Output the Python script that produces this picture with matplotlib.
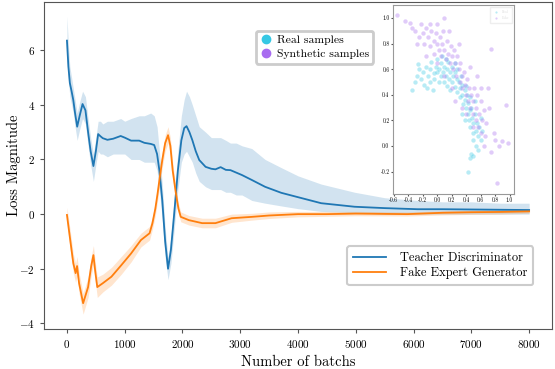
import numpy as np
import matplotlib
matplotlib.use("Agg")
import matplotlib.pyplot as plt
from matplotlib.lines import Line2D

plt.rcParams['font.family'] = 'serif'
plt.rcParams['font.serif'] = ['cmr10', 'DejaVu Serif']
plt.rcParams['mathtext.fontset'] = 'cm'
plt.rcParams['axes.unicode_minus'] = False
plt.rcParams['axes.formatter.use_mathtext'] = True

# Teacher Discriminator (smoothed) + raw band
td_x = [0, 25, 50, 80, 110, 140, 177, 220, 270, 320, 366, 410, 458, 500, 540,
        580, 620, 700, 800, 930, 1000, 1110, 1250, 1340, 1450, 1510, 1560, 1600,
        1650, 1700, 1750, 1800, 1860, 1920, 1980, 2030, 2070, 2120, 2170, 2230,
        2290, 2400, 2500, 2570, 2660, 2750, 2830, 2930, 3030, 3200, 3430, 3710,
        4000, 4400, 4980, 5500, 6070, 6500, 7000, 7500, 8000]
td_y = [6.35, 5.4, 4.8, 4.5, 4.17, 3.7, 3.2, 3.6, 4.03, 3.8, 3.0, 2.3, 1.76, 2.3, 2.93,
        2.85, 2.78, 2.72, 2.76, 2.86, 2.8, 2.69, 2.69, 2.61, 2.57, 2.53, 2.2, 1.6,
        0.5, -1.0, -2.0, -1.3, 0.1, 1.6, 2.7, 3.15, 3.22, 3.0, 2.71, 2.3,
        1.98, 1.73, 1.66, 1.64, 1.72, 1.62, 1.61, 1.52, 1.43, 1.25, 1.0, 0.78,
        0.62, 0.4, 0.27, 0.22, 0.18, 0.18, 0.17, 0.16, 0.15]
td_hi = [7.25, 6.2, 5.4, 5.0, 4.6, 4.2, 3.7, 4.1, 4.5, 4.3, 3.5, 2.8, 2.2, 2.8, 3.4,
         3.4, 3.3, 3.4, 3.4, 3.5, 3.4, 3.5, 3.6, 3.6, 3.7, 3.6, 3.2, 2.3,
         1.1, -0.5, -1.6, -0.8, 0.7, 2.3, 3.6, 4.2, 4.5, 4.3, 4.0, 3.6,
         3.2, 3.0, 2.8, 2.8, 2.8, 2.7, 2.6, 2.6, 2.5, 2.4, 2.0, 1.7,
         1.4, 1.1, 0.8, 0.6, 0.5, 0.45, 0.45, 0.4, 0.4]
td_lo = [5.6, 4.9, 4.3, 4.0, 3.7, 3.2, 2.7, 3.1, 3.5, 3.3, 2.5, 1.8, 1.2, 1.8, 2.3,
         2.2, 2.2, 2.1, 2.2, 2.2, 2.2, 2.0, 2.0, 1.9, 1.9, 1.9, 1.6, 0.9,
         -0.2, -1.6, -2.4, -1.8, -0.5, 0.9, 1.9, 2.2, 2.3, 2.1, 1.9, 1.5,
         1.2, 1.0, 0.9, 0.9, 0.9, 0.8, 0.8, 0.7, 0.7, 0.5, 0.4, 0.3,
         0.2, 0.1, 0.05, 0.0, 0.0, 0.0, 0.0, 0.0, 0.0]

# Fake Expert Generator (smoothed) + raw band
fg_x = [0, 50, 110, 150, 175, 210, 280, 366, 420, 458, 490, 525, 620, 770, 940,
        1110, 1280, 1430, 1480, 1530, 1570, 1610, 1650, 1700, 1750, 1790, 1830,
        1885, 1930, 1970, 2110, 2340, 2570, 2850, 3200, 3500, 4000, 4500, 5000,
        5890, 6500, 7000, 7500, 8000]
fg_y = [-0.03, -0.84, -1.8, -2.16, -1.9, -2.53, -3.26, -2.67, -1.9, -1.5, -2.1, -2.67,
        -2.53, -2.29, -1.87, -1.44, -0.95, -0.7, -0.33, 0.2, 0.77, 1.4, 1.98, 2.6,
        2.89, 2.5, 1.6, 0.77, 0.2, -0.1, -0.22, -0.33, -0.33, -0.15, -0.1, -0.05,
        0.0, 0.0, 0.02, 0.0, 0.05, 0.07, 0.08, 0.1]
fg_hi = [0.25, -0.5, -1.45, -1.8, -1.55, -2.15, -2.9, -2.3, -1.55, -1.15, -1.75, -2.3,
         -2.2, -1.95, -1.55, -1.15, -0.7, -0.45, -0.1, 0.45, 1.05, 1.7, 2.3, 2.9,
         3.2, 2.8, 1.9, 1.0, 0.4, 0.08, -0.05, -0.15, -0.15, 0.0, 0.03, 0.08,
         0.1, 0.1, 0.1, 0.08, 0.12, 0.14, 0.15, 0.17]
fg_lo = [-0.3, -1.2, -2.15, -2.5, -2.25, -2.9, -3.66, -3.05, -2.25, -1.85, -2.45, -3.05,
         -2.85, -2.6, -2.2, -1.75, -1.2, -0.95, -0.55, -0.05, 0.5, 1.1, 1.7, 2.3,
         2.6, 2.2, 1.3, 0.55, 0.0, -0.28, -0.4, -0.5, -0.5, -0.3, -0.22, -0.16,
         -0.1, -0.08, -0.06, -0.07, -0.03, -0.01, 0.0, 0.03]

# inset scatter samples
real_pts = np.array([
    (-0.35, 0.44), (-0.3, 0.5), (-0.28, 0.55), (-0.25, 0.6), (-0.22, 0.52), (-0.2, 0.58),
    (-0.18, 0.48), (-0.15, 0.62), (-0.12, 0.55), (-0.1, 0.6), (-0.1, 0.5), (-0.08, 0.66),
    (-0.05, 0.57), (-0.04, 0.52), (-0.02, 0.62), (0.0, 0.58), (0.0, 0.68), (0.02, 0.5),
    (0.03, 0.6), (0.05, 0.55), (0.06, 0.65), (0.08, 0.58), (0.09, 0.5), (0.1, 0.62),
    (0.12, 0.55), (0.13, 0.47), (0.14, 0.6), (0.15, 0.66), (0.17, 0.52), (0.18, 0.58),
    (0.2, 0.5), (0.21, 0.62), (0.22, 0.55), (0.24, 0.46), (0.25, 0.58), (0.27, 0.52),
    (0.28, 0.42), (0.3, 0.5), (0.31, 0.45), (0.32, 0.38), (0.34, 0.48), (0.35, 0.4),
    (0.36, 0.33), (0.38, 0.44), (0.39, 0.36), (0.4, 0.3), (0.41, 0.4), (0.42, 0.25),
    (0.43, 0.34), (0.44, 0.2), (0.45, 0.28), (0.46, 0.15), (0.47, 0.3), (0.48, 0.22),
    (0.49, 0.1), (0.5, 0.18), (0.5, 0.05), (0.52, 0.25), (0.53, 0.12), (0.54, 0.0),
    (0.55, 0.18), (0.56, 0.08), (0.58, 0.15), (0.6, 0.05), (0.57, -0.03), (0.47, -0.06),
    (0.45, -0.09), (0.5, -0.08), (0.43, -0.2), (0.6, 0.22), (-0.27, 0.64), (0.07, 0.7),
    (0.12, 0.68), (0.25, 0.65), (0.33, 0.55), (0.4, 0.47), (0.52, 0.35), (0.62, 0.12),
    (-0.14, 0.45), (0.18, 0.44), (0.38, 0.2), (0.46, 0.38), (0.35, 0.25), (-0.06, 0.44),
    (0.28, 0.6)])
fake_pts = np.array([
    (-0.55, 1.02), (-0.45, 0.98), (-0.38, 0.96), (-0.35, 0.92), (-0.3, 0.9), (-0.25, 0.85),
    (-0.28, 0.8), (-0.22, 0.95), (-0.2, 0.88), (-0.18, 0.8), (-0.15, 0.92), (-0.12, 0.85),
    (-0.1, 0.78), (-0.1, 0.95), (-0.08, 0.9), (-0.05, 0.82), (-0.05, 0.72), (-0.02, 0.88),
    (0.0, 0.8), (0.0, 0.95), (0.02, 0.75), (0.04, 0.85), (0.05, 0.7), (0.07, 0.8),
    (0.08, 0.9), (0.1, 0.75), (0.1, 1.0), (0.12, 0.68), (0.13, 0.82), (0.15, 0.72),
    (0.16, 0.9), (0.18, 0.65), (0.19, 0.78), (0.2, 0.7), (0.22, 0.6), (0.23, 0.75),
    (0.25, 0.65), (0.26, 0.55), (0.28, 0.7), (0.3, 0.6), (0.31, 0.5), (0.32, 0.65),
    (0.34, 0.55), (0.35, 0.45), (0.37, 0.58), (0.38, 0.48), (0.4, 0.4), (0.41, 0.52),
    (0.43, 0.35), (0.44, 0.45), (0.46, 0.3), (0.47, 0.4), (0.49, 0.25), (0.5, 0.35),
    (0.51, 0.45), (0.53, 0.2), (0.54, 0.3), (0.55, 0.4), (0.57, 0.15), (0.58, 0.25),
    (0.6, 0.35), (0.61, 0.1), (0.62, 0.2), (0.64, 0.28), (0.66, 0.08), (0.68, 0.18),
    (0.7, 0.45), (0.72, 0.3), (0.75, 0.76), (0.78, 0.1), (0.8, 0.05), (0.85, 0.0),
    (0.9, 0.04), (0.95, 0.32), (0.98, 0.02), (0.82, -0.29), (0.75, -0.05), (0.65, 0.0),
    (0.3, 0.8), (0.45, 0.62), (0.55, 0.55), (0.2, 0.45), (0.35, 0.3), (0.1, 0.55),
    (-0.15, 0.7), (0.6, 0.45), (0.4, 0.25), (0.25, 0.35), (0.5, 0.15), (0.0, 0.65)])

blue = '#1f77b4'
orange = '#ff7f0e'
cyan = '#36c8e4'
purple = '#a86cf0'

fig = plt.figure(figsize=(5.55, 3.69), dpi=100)
ax = fig.add_axes([0.079, 0.108, 0.916, 0.887])

ax.fill_between(td_x, td_lo, td_hi, color=blue, alpha=0.2, lw=0)
ax.fill_between(fg_x, fg_lo, fg_hi, color=orange, alpha=0.2, lw=0)
l1, = ax.plot(td_x, td_y, color=blue, lw=1.3, label='Teacher Discriminator')
l2, = ax.plot(fg_x, fg_y, color=orange, lw=1.3, label='Fake Expert Generator')

ax.set_xlim(-400, 8400)
ax.set_ylim(-4.21, 7.77)
ax.set_xticks(range(0, 8001, 1000))
ax.set_yticks([-4, -2, 0, 2, 4, 6])
ax.tick_params(labelsize=8, length=3, color='#555555')
ax.set_xlabel('Number of batchs', fontsize=10.5, labelpad=4)
ax.set_ylabel('Loss Magnitude', fontsize=10.5)
ax.yaxis.set_label_coords(-0.045, 0.5)
for s in ax.spines.values():
    s.set_color('#555555')

leg1 = ax.legend(handles=[l1, l2], loc='lower right', bbox_to_anchor=(0.975, 0.115),
                 fontsize=9, handlelength=2.6, handletextpad=1.1, borderpad=0.5,
                 labelspacing=0.2, fancybox=True, framealpha=1, edgecolor='#cccccc')
leg1.get_frame().set_linewidth(1.5)
ax.add_artist(leg1)

sc_handles = [Line2D([], [], ls='', marker='o', ms=6, color=cyan, label='Real samples'),
              Line2D([], [], ls='', marker='o', ms=6, color=purple, label='Synthetic samples')]
leg2 = ax.legend(handles=sc_handles, loc='upper left', bbox_to_anchor=(0.405, 0.93),
                 fontsize=8.4, handletextpad=0.4, handlelength=1.0, borderpad=0.4,
                 labelspacing=0.3, fancybox=True, framealpha=1, edgecolor='#cccccc')
leg2.get_frame().set_linewidth(2)

# inset
ins = fig.add_axes([0.708, 0.474, 0.218, 0.512])
ins.scatter(real_pts[:, 0], real_pts[:, 1], s=10, color=cyan, alpha=0.35, lw=0, label='Real')
ins.scatter(fake_pts[:, 0], fake_pts[:, 1], s=10, color=purple, alpha=0.35, lw=0, label='Fake')
ins.set_xlim(-0.61, 1.06)
ins.set_ylim(-0.375, 1.1)
ins.set_xticks(np.arange(-0.6, 1.01, 0.2))
ins.set_yticks(np.arange(-0.2, 1.01, 0.2))
ins.xaxis.set_major_formatter(matplotlib.ticker.FormatStrFormatter('%.1f'))
ins.yaxis.set_major_formatter(matplotlib.ticker.FormatStrFormatter('%.1f'))
ins.tick_params(labelsize=4, length=1.5, pad=1, color='#555555')
for s in ins.spines.values():
    s.set_color('#999999')
il = ins.legend(loc='upper right', fontsize=2.5, markerscale=0.5, framealpha=1,
                edgecolor='#eeeeee', fancybox=False, borderpad=0.8)
for t in il.get_texts():
    t.set_color('#dddddd')

fig.savefig('out.png', dpi=100)
